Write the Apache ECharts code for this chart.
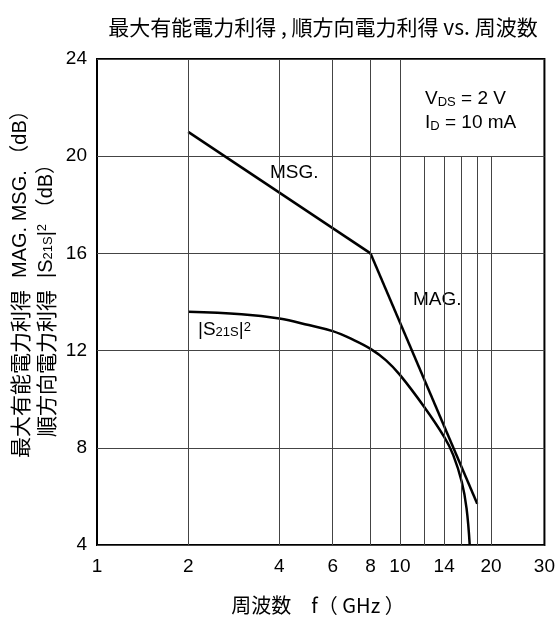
<!DOCTYPE html>
<html>
<head>
<meta charset="utf-8">
<script src="https://cdn.jsdelivr.net/npm/echarts@6/dist/echarts.min.js"></script>
<style>
html,body{margin:0;padding:0;background:#fff;}
#c{width:558px;height:617px;}
</style>
</head>
<body>
<div id="c"></div>
<script>
// ---- data ----
const xTickLabels = [1, 2, 4, 6, 8, 10, 14, 20, 30];
const yTicks = [4, 8, 12, 16, 20, 24];
const gridFull = [2, 4, 6, 8, 10];
const gridPartial = [12, 14, 16, 18, 20];
const msgData = [[2, 21.0], [8, 16.0]];
const magData = [[8, 16.0], [18, 5.7]];
const s21Data = [[2, 13.6], [3, 13.5], [4, 13.32], [5, 13.05], [6, 12.8], [7, 12.45], [8, 12.07], [9, 11.6], [10, 11.0], [12, 9.7], [14, 8.45], [15, 7.7], [16, 6.6], [16.6, 5.5], [17, 4.0]];

const FONT = '"Liberation Sans", Arial, "Noto Sans CJK JP", sans-serif';
const CJK = '"Noto Sans CJK JP", "Liberation Sans", sans-serif';
const GRID_COLOR = '#444';

const vLines = gridFull.map(v => [{coord: [v, 4]}, {coord: [v, 24]}])
  .concat(gridPartial.map(v => [{coord: [v, 4]}, {coord: [v, 20]}]));

const chart = echarts.init(document.getElementById('c'), null, {renderer: 'canvas'});
chart.setOption({
  animation: false,
  backgroundColor: '#fff',
  grid: {left: 97, right: 10, top: 59, bottom: 72, show: true, borderColor: '#000', borderWidth: 2, backgroundColor: 'transparent'},
  xAxis: {
    type: 'log', logBase: 10, min: 1, max: 30,
    axisLine: {show: false},
    axisTick: {show: false},
    splitLine: {show: false},
    minorSplitLine: {show: false},
    axisLabel: {customValues: xTickLabels, color: '#000', fontSize: 19, fontFamily: FONT, margin: 12, formatter: v => String(Math.round(v))}
  },
  yAxis: {
    type: 'value', min: 4, max: 24, interval: 4,
    axisLine: {show: false},
    axisTick: {show: false},
    splitLine: {show: true, lineStyle: {color: GRID_COLOR, width: 1}},
    axisLabel: {color: '#000', fontSize: 19, fontFamily: FONT, margin: 10}
  },
  series: [
    {
      type: 'line', data: [], silent: true,
      markLine: {silent: true, symbol: ['none', 'none'], label: {show: false},
        lineStyle: {color: GRID_COLOR, width: 1, type: 'solid'}, emphasis: {disabled: true}, data: vLines}
    },
    {type: 'line', data: msgData, symbol: 'none', lineStyle: {color: '#000', width: 2.5}, silent: true},
    {type: 'line', data: magData, symbol: 'none', lineStyle: {color: '#000', width: 2.5}, silent: true},
    {type: 'line', data: s21Data, symbol: 'none', smooth: 0.4, lineStyle: {color: '#000', width: 2.5}, silent: true}
  ],
  graphic: [
    {type: 'text', x: 323, y: 27, style: {text: '最大有能電力利得 , 順方向電力利得 vs. 周波数', font: '21px ' + CJK, fill: '#000', align: 'center', verticalAlign: 'middle'}},
    {type: 'text', x: 318, y: 605, style: {text: '周波数　f（ GHz ）', font: '20px ' + CJK, fill: '#000', align: 'center', verticalAlign: 'middle'}},
    // y axis names
    {type: 'text', x: 20, y: 290, rotation: Math.PI / 2, style: {text: '最大有能電力利得', font: '21px ' + CJK, fill: '#000', align: 'right', verticalAlign: 'middle'}},
    {type: 'text', x: 20, y: 278, rotation: Math.PI / 2, style: {text: 'MAG. MSG. （dB）', font: '20px ' + FONT, fill: '#000', align: 'left', verticalAlign: 'middle'}},
    {type: 'text', x: 46, y: 290, rotation: Math.PI / 2, style: {text: '順方向電力利得', font: '21px ' + CJK, fill: '#000', align: 'right', verticalAlign: 'middle'}},
    {type: 'text', x: 46, y: 278, rotation: Math.PI / 2, style: {
      text: '{m||S}{s|21S}{m||}{sup|2}{m| （dB）}', align: 'left', verticalAlign: 'middle', fill: '#000',
      rich: {
        m: {fontSize: 20, fontFamily: FONT, fill: '#000', color: '#000'},
        s: {fontSize: 13, fontFamily: FONT, color: '#000', verticalAlign: 'bottom', padding: [0, 0, 1, 0]},
        sup: {fontSize: 13, fontFamily: FONT, color: '#000', verticalAlign: 'top'}
      }}},
    // annotations
    {type: 'text', x: 425, y: 99, style: {
      text: '{m|V}{s|DS}{m| = 2 V}', verticalAlign: 'middle', align: 'left',
      rich: {m: {fontSize: 19, fontFamily: FONT, color: '#000'}, s: {fontSize: 13, fontFamily: FONT, color: '#000', verticalAlign: 'bottom'}}}},
    {type: 'text', x: 425, y: 123, style: {
      text: '{m|I}{s|D}{m| = 10 mA}', verticalAlign: 'middle', align: 'left',
      rich: {m: {fontSize: 19, fontFamily: FONT, color: '#000'}, s: {fontSize: 13, fontFamily: FONT, color: '#000', verticalAlign: 'bottom'}}}},
    {type: 'text', x: 270, y: 173, style: {text: 'MSG.', font: '19px ' + FONT, fill: '#000', align: 'left', verticalAlign: 'middle'}},
    {type: 'text', x: 413, y: 300, style: {text: 'MAG.', font: '19px ' + FONT, fill: '#000', align: 'left', verticalAlign: 'middle'}},
    {type: 'text', x: 198, y: 330, style: {
      text: '{m||S}{s|21S}{m||}{sup|2}', verticalAlign: 'middle', align: 'left',
      rich: {
        m: {fontSize: 19, fontFamily: FONT, color: '#000'},
        s: {fontSize: 13, fontFamily: FONT, color: '#000', verticalAlign: 'bottom', padding: [0, 0, 1, 0]},
        sup: {fontSize: 13, fontFamily: FONT, color: '#000', verticalAlign: 'top'}
      }}}
  ]
});
</script>
</body>
</html>
